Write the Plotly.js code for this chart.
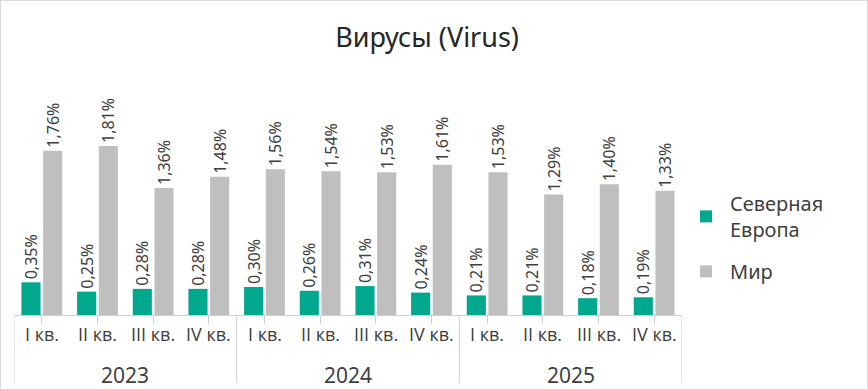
<!DOCTYPE html>
<html>
<head>
<meta charset="utf-8">
<script src="https://cdn.plot.ly/plotly-3.0.1.min.js"></script>
<style>
html,body{margin:0;padding:0;background:#fff;}
#chart{width:868px;height:390px;box-sizing:border-box;border:1px solid #d9d9d9;}
</style>
</head>
<body>
<div id="chart"></div>
<script>
const years = ["2023","2024","2025"];
const quarters = ["I кв.","II кв.","III кв.","IV кв.","I кв.","II кв.","III кв.","IV кв.","I кв.","II кв.","III кв.","IV кв."];
const northEurope = [0.35,0.25,0.28,0.28,0.30,0.26,0.31,0.24,0.21,0.21,0.18,0.19];
const world = [1.76,1.81,1.36,1.48,1.56,1.54,1.53,1.61,1.53,1.29,1.40,1.33];
const seriesNames = ["Северная<br>Европа","Мир"];
const colors = ["#00A88E","#BFBFBF"];

const FONT = "Noto Sans";
const QFONT = "Open Sans";
const TXT = "#404040";
const fmt = v => v.toFixed(2).replace(".", ",") + "%";
const idx = quarters.map((q, i) => i);
const perYear = quarters.length / years.length;

const traces = [northEurope, world].map((vals, i) => ({
  type: "bar",
  name: seriesNames[i],
  legendgroup: "g" + i,
  x: idx,
  y: vals,
  text: vals.map(fmt),
  textposition: "outside",
  textangle: -90,
  constraintext: "none",
  textfont: {family: FONT, size: 16, color: TXT},
  cliponaxis: false,
  marker: {color: colors[i], line: {width: 0}},
  hoverinfo: "skip"
}));

const plotH = 388 - 89 - 74;
const py = px => -(px - 315) / plotH;

const shapes = [];
for (let g = 0; g <= years.length; g++) {
  const xb = g * perYear - 0.5;
  shapes.push({type: "line", xref: "x", yref: "paper", x0: xb, x1: xb, y0: 0, y1: py(383),
               line: {color: "#d0d0d0", width: 1}});
}
const yearAnn = years.map((y, g) => ({
  text: y, xref: "x", yref: "paper", x: g * perYear + (perYear - 1) / 2, y: py(375),
  xanchor: "center", yanchor: "middle", showarrow: false,
  font: {family: FONT, size: 21, color: TXT}
}));
const quarterAnn = quarters.map((q, i) => ({
  text: q, xref: "x", yref: "paper", x: i, y: py(334),
  xanchor: "center", yanchor: "middle", showarrow: false,
  font: {family: QFONT, size: 18, color: TXT}
}));

const layout = {
  width: 866, height: 388,
  margin: {l: 13, r: 185, t: 89, b: 74},
  font: {family: FONT, color: TXT},
  paper_bgcolor: "#fff", plot_bgcolor: "#fff",
  title: {text: "Вирусы (Virus)", x: 0.492, xanchor: "center", y: 0.905, yanchor: "middle",
          font: {family: FONT, size: 27, color: "#262626"}},
  barmode: "group",
  bargap: 0.22,
  bargroupgap: 0.12,
  xaxis: {
    range: [-0.5, quarters.length - 0.5],
    tickmode: "array", tickvals: idx, showticklabels: false,
    showline: true, linecolor: "#d0d0d0", linewidth: 1,
    ticks: "outside", ticklen: 8, tickcolor: "#d0d0d0",
    showgrid: false, zeroline: false, automargin: false
  },
  yaxis: {range: [0, 2.41], visible: false, showgrid: false, zeroline: false, fixedrange: true},
  legend: {x: 1.0, xanchor: "left", y: 0.345, yanchor: "middle",
           font: {family: FONT, size: 20, color: TXT},
           tracegroupgap: 13, itemwidth: 38},
  shapes: shapes,
  annotations: yearAnn.concat(quarterAnn),
  showlegend: true
};

Plotly.newPlot("chart", traces, layout, {displayModeBar: false, staticPlot: true});
</script>
</body>
</html>
